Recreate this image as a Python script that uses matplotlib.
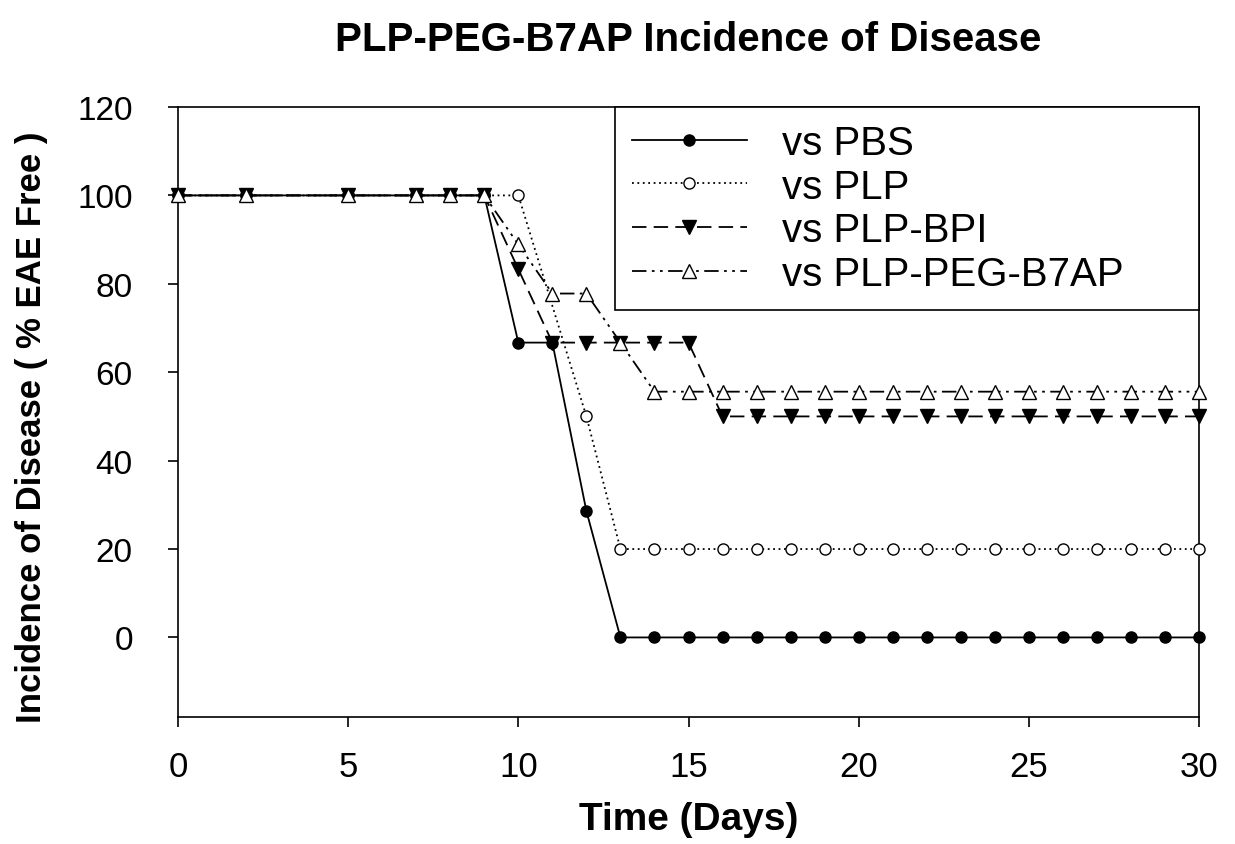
import matplotlib
matplotlib.use("Agg")
import matplotlib.pyplot as plt

plt.rcParams['font.family'] = ['Liberation Sans', 'DejaVu Sans']

days_early = [0, 2, 5, 7, 8, 9]
days_late = list(range(13, 31))

pbs_x = days_early + [10, 11, 12] + days_late
pbs_y = [100]*6 + [66.7, 66.7, 28.6] + [0]*18

plp_x = days_early + [10, 12] + days_late
plp_y = [100]*6 + [100, 50] + [20]*18

bpi_x = days_early + [10, 11, 12] + days_late
bpi_y = [100]*6 + [83.3, 66.7, 66.7] + [66.7, 66.7, 66.7] + [50]*15

peg_x = days_early + [10, 11, 12] + days_late
peg_y = [100]*6 + [88.9, 77.8, 77.8] + [66.7] + [55.6]*17

labels = ['vs PBS', 'vs PLP', 'vs PLP-BPI', 'vs PLP-PEG-B7AP']

W, H = 1235, 845
fig = plt.figure(figsize=(W/100, H/100), dpi=100)
ax = fig.add_axes([178/W, 1-718/H, 1021/W, 610/H])

ms = 8
ax.plot(pbs_x, pbs_y, color='black', lw=1.3, ls='-', marker='o', ms=ms,
        mfc='black', mec='black', clip_on=False, zorder=4, label=labels[0])
ax.plot(plp_x, plp_y, color='black', lw=1.3, ls=(0, (1, 2)), marker='o', ms=ms,
        mfc='white', mec='black', clip_on=False, zorder=3, label=labels[1])
ax.plot(bpi_x, bpi_y, color='black', lw=1.3, ls=(0, (8, 4)), marker='v', ms=10,
        mfc='black', mec='black', clip_on=False, zorder=5, label=labels[2])
ax.plot(peg_x, peg_y, color='black', lw=1.3, ls=(0, (8, 3, 1.5, 3, 1.5, 3)), marker='^', ms=10,
        mfc='white', mec='black', clip_on=False, zorder=6, label=labels[3])

ax.set_xlim(0, 30)
ax.set_ylim(-18, 120)
ax.set_xticks([0, 5, 10, 15, 20, 25, 30])
ax.set_yticks([0, 20, 40, 60, 80, 100, 120])
ax.tick_params(axis='both', direction='out', length=7.5, width=1.2, colors='black')
ax.tick_params(axis='x', labelsize=25, pad=16)
ax.tick_params(axis='y', labelsize=24, pad=25)
for s in ax.spines.values():
    s.set_linewidth(1.2)
    s.set_color('black')

ax.set_xlabel('Time (Days)', fontsize=28, fontweight='bold')
ax.xaxis.set_label_coords(0.5, (718-830)/610)
ax.xaxis.label.set_va('baseline')
ax.set_ylabel('Incidence of Disease ( % EAE Free )', fontsize=25, fontweight='bold')
ax.yaxis.set_label_coords((32-178)/1021, (718-427)/610)
ax.yaxis.label.set_va('center')
ax.yaxis.label.set_ha('center')

fig.text(688/W, 1-40/H, 'PLP-PEG-B7AP Incidence of Disease', fontsize=29,
         fontweight='bold', ha='center', va='center')

leg = ax.legend(loc='upper left', bbox_to_anchor=(437/1021, 410/610, 584/1021, 200/610),
                mode='expand', borderaxespad=0, frameon=True, fancybox=False,
                edgecolor='black', fontsize=29, handlelength=2.85, handletextpad=0.87,
                labelspacing=0.14, borderpad=0.42)
leg.get_frame().set_linewidth(1.2)
leg.get_frame().set_alpha(1)

fig.savefig('out.png', dpi=100)
